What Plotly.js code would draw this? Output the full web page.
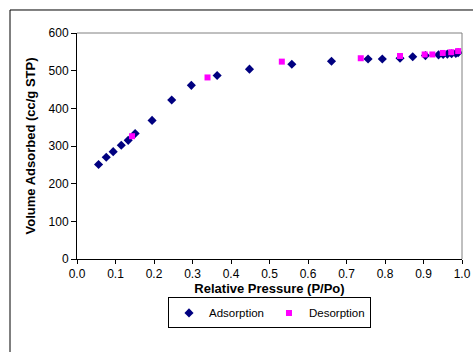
<!DOCTYPE html>
<html><head><meta charset="utf-8">
<script src="https://cdn.plot.ly/plotly-3.0.1.min.js"></script>
<style>body{margin:0;background:#fff}#c{width:473px;height:352px}</style>
</head><body><div id="c"></div>
<script>
const adsX = [0.056,0.076,0.094,0.115,0.133,0.151,0.195,0.246,0.297,0.364,0.448,0.558,0.661,0.756,0.793,0.839,0.872,0.905,0.939,0.951,0.962,0.973,0.984,0.99];
const adsY = [251,270,285,302,315,333,368,422,461,487,504,517,525,531,531,533,537,540,542,543,544,545,546,548];
const desX = [0.143,0.339,0.532,0.737,0.839,0.903,0.923,0.950,0.972,0.990];
const desY = [326,482,524,533,539,543,543,547,549,552];
const xTicks = [0,0.1,0.2,0.3,0.4,0.5,0.6,0.7,0.8,0.9,1.0];
const xTickText = ["0.0","0.1","0.2","0.3","0.4","0.5","0.6","0.7","0.8","0.9","1.0"];

const font = {family:"Liberation Sans, Arial, sans-serif", color:"#000"};
const data = [
  {x:adsX, y:adsY, type:"scatter", mode:"markers", name:"Adsorption",
   marker:{symbol:"diamond", size:7, color:"#000080"}},
  {x:desX, y:desY, type:"scatter", mode:"markers", name:"Desorption",
   marker:{symbol:"square", size:6, color:"#FF00FF"}}
];
const layout = {
  width:473, height:352,
  margin:{l:77, r:11, t:33, b:93},
  paper_bgcolor:"#fff", plot_bgcolor:"#fff",
  font:Object.assign({size:12}, font),
  showlegend:true,
  legend:{orientation:"h", x:0.5, xanchor:"center", y:-0.17, yanchor:"top",
    bordercolor:"#000", borderwidth:1, font:Object.assign({size:11.5}, font),
    itemwidth:30, tracegroupgap:0},
  xaxis:{range:[0,1], tickvals:xTicks, ticktext:xTickText, showgrid:false, zeroline:false,
    showline:true, linecolor:"#000", linewidth:1, ticks:"outside", ticklen:4, tickcolor:"#000",
    tickfont:Object.assign({size:12}, font),
    title:{text:"<b>Relative Pressure (P/Po)</b>", font:Object.assign({size:13}, font), standoff:0}},
  yaxis:{range:[0,600], dtick:100, showgrid:false, zeroline:false,
    showline:true, linecolor:"#000", linewidth:1, ticks:"outside", ticklen:5, tickcolor:"#000",
    tickfont:Object.assign({size:12}, font),
    title:{text:"<b>Volume Adsorbed (cc/g STP)</b>", font:Object.assign({size:13}, font), standoff:10}},
  shapes:[
    {type:"line", xref:"paper", yref:"paper", x0:0, x1:1, y0:1, y1:1, line:{color:"#808080", width:1}},
    {type:"line", xref:"paper", yref:"paper", x0:1, x1:1, y0:0, y1:1, line:{color:"#808080", width:1}},
    {type:"rect", xref:"paper", yref:"paper", x0:-0.174, x1:1.2, y0:-0.6, y1:1.1018, line:{color:"#000", width:1}, layer:"below"}
  ]
};
Plotly.newPlot("c", data, layout, {displayModeBar:false, staticPlot:true});
</script></body></html>
